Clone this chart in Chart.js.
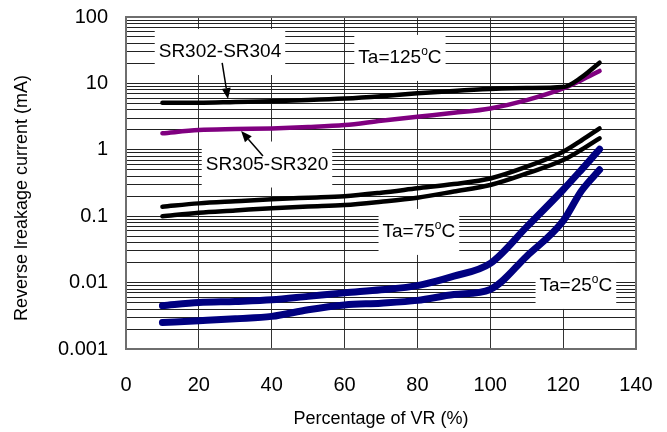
<!DOCTYPE html>
<html>
<head>
<meta charset="utf-8">
<script src="https://cdn.jsdelivr.net/npm/chart.js@4.4.1/dist/chart.umd.min.js"></script>
<style>
  html, body { margin: 0; padding: 0; background: #fff; }
  #wrap { width: 667px; height: 432px; }
</style>
</head>
<body>
<div id="wrap"><canvas id="leakChart"></canvas></div>
<script>
// x positions (% of VR) where the curves were read
const pctVR = [10, 20, 30, 40, 50, 60, 70, 80, 90, 100, 110, 120, 125, 130];

// Ta=125oC
const sr302At125 = [5.1, 5.1, 5.25, 5.4, 5.6, 5.9, 6.4, 7.1, 7.7, 8.2, 8.5, 8.8, 12.3, 20.5];
const sr305At125 = [1.77, 1.98, 2.05, 2.1, 2.2, 2.36, 2.74, 3.15, 3.6, 4.2, 5.6, 8.4, 11.2, 15.4];
// Ta=75oC
const upperAt75 = [0.139, 0.156, 0.168, 0.18, 0.19, 0.2, 0.226, 0.263, 0.305, 0.37, 0.556, 0.935, 1.38, 2.1];
const lowerAt75 = [0.1, 0.113, 0.122, 0.132, 0.14, 0.147, 0.165, 0.19, 0.235, 0.295, 0.44, 0.7, 1.0, 1.49];
// Ta=25oC
const upperAt25 = [0.0045, 0.005, 0.0052, 0.0055, 0.0062, 0.007, 0.0078, 0.009, 0.0125, 0.0195, 0.069, 0.25, 0.5, 1.02];
const lowerAt25 = [0.0025, 0.00267, 0.00286, 0.0031, 0.0039, 0.0046, 0.0049, 0.0054, 0.0066, 0.0079, 0.025, 0.085, 0.24, 0.5];

// axis ticks
const yDecades = [0.001, 0.01, 0.1, 1, 10, 100];
const yTickLabels = ['0.001', '0.01', '0.1', '1', '10', '100'];

// text labels on the plot (data coordinates)
const noteText = ['SR302-SR304', 'SR305-SR320', 'Ta=125', 'Ta=75', 'Ta=25'];
const noteSup = ['', '', 'o', 'o', 'o'];
const noteTail = ['', '', 'C', 'C', 'C'];
const noteX = [25.8, 38.7, 75.2, 80.4, 123.5];
const noteY = [29.7, 0.6, 24.2, 0.058, 0.0089];

// arrows: from label to curve
const arrowFromX = [26.4, 37.6];
const arrowFromY = [20.3, 0.807];
const arrowToX = [28.0, 31.6];
const arrowToY = [5.8, 1.92];

// log grid: 1..9 in every decade
const yGridValues = [];
yDecades.forEach((d, i) => {
  const last = i === yDecades.length - 1 ? 1 : 9;
  for (let k = 1; k <= last; k++) yGridValues.push(+(d * k).toPrecision(3));
});

Chart.defaults.font.family = "'Liberation Sans', Arial, sans-serif";
Chart.defaults.color = '#000';

function pts(ys) {
  return pctVR.map((p, i) => ({ x: p, y: ys[i] }));
}

const notesPlugin = {
  id: 'notes',
  beforeDatasetsDraw(chart) {
    const { ctx, chartArea } = chart;
    const xs = chart.scales.x, ys = chart.scales.y;
    ctx.save();
    const big = "19px 'Liberation Sans', Arial, sans-serif";
    const small = "12px 'Liberation Sans', Arial, sans-serif";
    noteText.forEach((t, i) => {
      const cx = xs.getPixelForValue(noteX[i]);
      const cy = ys.getPixelForValue(noteY[i]);
      ctx.font = big;
      const w1 = ctx.measureText(t).width;
      const w3 = ctx.measureText(noteTail[i]).width;
      ctx.font = small;
      const w2 = ctx.measureText(noteSup[i]).width;
      const w = w1 + w2 + w3;
      // white box hides the grid behind the text
      ctx.fillStyle = '#fff';
      ctx.fillRect(cx - w / 2 - 4, cy - 23, w + 8, 46);
      ctx.fillStyle = '#000';
      ctx.textBaseline = 'middle';
      ctx.textAlign = 'left';
      let x0 = cx - w / 2;
      ctx.font = big;
      ctx.fillText(t, x0, cy);
      x0 += w1;
      if (noteSup[i]) {
        ctx.font = small;
        ctx.fillText(noteSup[i], x0, cy - 6);
        x0 += w2;
        ctx.font = big;
        ctx.fillText(noteTail[i], x0, cy);
      }
    });
    // plot frame
    ctx.strokeStyle = '#6e6e6e';
    ctx.lineWidth = 2;
    ctx.strokeRect(chartArea.left, chartArea.top, chartArea.width, chartArea.height);
    ctx.restore();
  },
  afterDatasetsDraw(chart) {
    const { ctx } = chart;
    const xs = chart.scales.x, ys = chart.scales.y;
    ctx.save();
    ctx.strokeStyle = '#000';
    ctx.fillStyle = '#000';
    ctx.lineWidth = 1.5;
    arrowFromX.forEach((fx, i) => {
      const x1 = xs.getPixelForValue(fx), y1 = ys.getPixelForValue(arrowFromY[i]);
      const x2 = xs.getPixelForValue(arrowToX[i]), y2 = ys.getPixelForValue(arrowToY[i]);
      const a = Math.atan2(y2 - y1, x2 - x1);
      const len = 11, half = 4.5;
      const bx = x2 - len * Math.cos(a), by = y2 - len * Math.sin(a);
      ctx.beginPath();
      ctx.moveTo(x1, y1);
      ctx.lineTo(bx, by);
      ctx.stroke();
      ctx.beginPath();
      ctx.moveTo(x2, y2);
      ctx.lineTo(bx + half * Math.sin(a), by - half * Math.cos(a));
      ctx.lineTo(bx - half * Math.sin(a), by + half * Math.cos(a));
      ctx.closePath();
      ctx.fill();
    });
    ctx.restore();
  }
};

const lineStyle = (color, width) => ({
  borderColor: color,
  borderWidth: width,
  pointRadius: 0,
  fill: false,
  cubicInterpolationMode: 'monotone',
  borderCapStyle: 'round',
  borderJoinStyle: 'round'
});

new Chart(document.getElementById('leakChart'), {
  type: 'line',
  data: {
    datasets: [
      { label: 'SR302-SR304 125', data: pts(sr302At125), ...lineStyle('#000000', 4.5) },
      { label: 'SR305-SR320 125', data: pts(sr305At125), ...lineStyle('#800080', 4.5) },
      { label: '75 upper', data: pts(upperAt75), ...lineStyle('#000000', 4.5) },
      { label: '75 lower', data: pts(lowerAt75), ...lineStyle('#000000', 4.5) },
      { label: '25 upper', data: pts(upperAt25), ...lineStyle('#000080', 7) },
      { label: '25 lower', data: pts(lowerAt25), ...lineStyle('#000080', 7) }
    ]
  },
  options: {
    responsive: true,
    maintainAspectRatio: false,
    animation: false,
    layout: { padding: { left: 0, top: 17, right: 31, bottom: 0 } },
    plugins: { legend: { display: false }, tooltip: { enabled: false } },
    scales: {
      x: {
        type: 'linear',
        min: 0,
        max: 140,
        afterFit(scale) {
          scale.height = 83;
          scale.paddingLeft = 0;
          scale.paddingRight = 0;
        },
        ticks: { stepSize: 20, padding: 24, font: { size: 20 }, color: '#000' },
        grid: { color: '#333', drawTicks: false, lineWidth: 1 },
        border: { display: false },
        title: {
          display: true,
          text: 'Percentage of VR (%)',
          font: { size: 18 },
          color: '#000',
          padding: { top: 0, bottom: 2 }
        }
      },
      y: {
        type: 'logarithmic',
        min: 0.001,
        max: 100,
        afterFit(scale) {
          scale.width = 126;
          scale.paddingTop = 0;
          scale.paddingBottom = 0;
        },
        afterBuildTicks(scale) {
          scale.ticks = yGridValues.map(v => ({ value: v }));
        },
        ticks: {
          autoSkip: false,
          padding: 18,
          font: { size: 20 },
          color: '#000',
          callback(value) {
            const i = yDecades.indexOf(value);
            return i >= 0 ? yTickLabels[i] : '';
          }
        },
        grid: { color: '#222', drawTicks: false, lineWidth: 1 },
        border: { display: false },
        title: {
          display: true,
          text: 'Reverse lreakage current (mA)      ',
          font: { size: 18 },
          color: '#000',
          padding: { top: 11, bottom: 0 }
        }
      }
    }
  },
  plugins: [notesPlugin]
});
</script>
</body>
</html>
